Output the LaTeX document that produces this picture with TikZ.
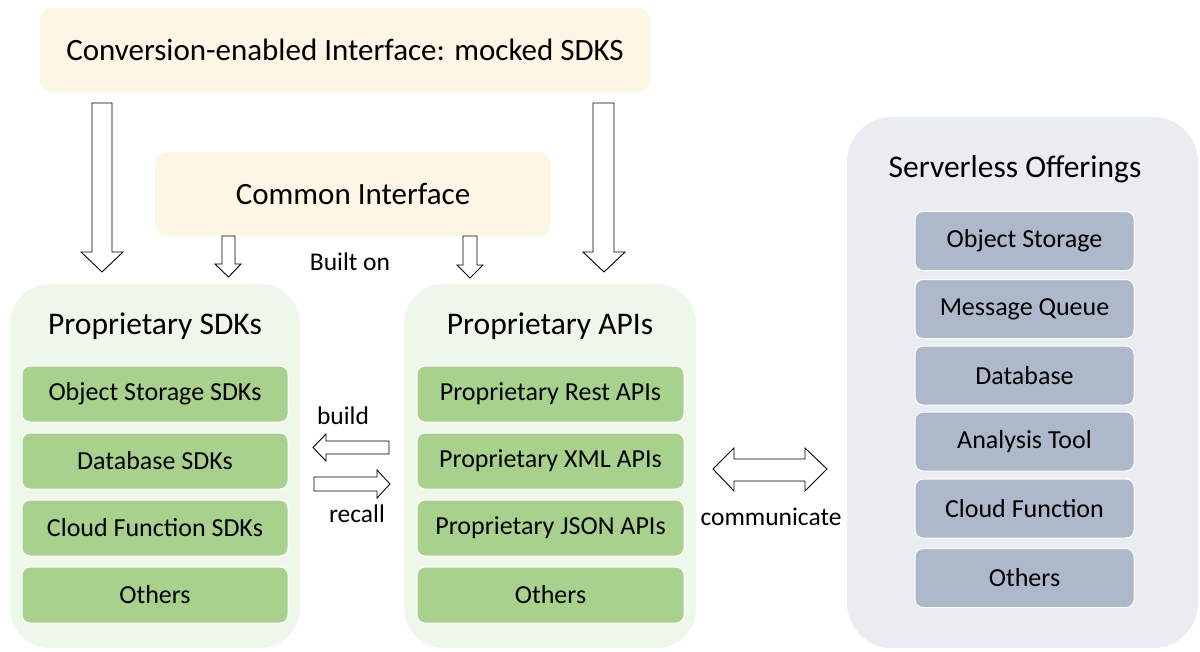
\documentclass[tikz,border=0pt]{standalone}
\usepackage{fontspec}
\setmainfont{Carlito}
\definecolor{cream}{HTML}{FEF6E4}
\definecolor{lgreen}{HTML}{EFF6EA}
\definecolor{mgreen}{HTML}{A9D18E}
\definecolor{lgray}{HTML}{E9ECF1}
\definecolor{mgray}{HTML}{ADB9CA}
\tikzset{
  ibox/.style={fill=cream, draw=none, rounded corners=12pt, font=\fontsize{31}{34}\selectfont},
  cont/.style={draw=none, rounded corners=40pt},
  gitem/.style={fill=mgreen, draw=white, line width=1pt, rounded corners=8pt, minimum width=266pt, minimum height=56pt, font=\fontsize{26}{28}\selectfont},
  sitem/.style={fill=mgray, draw=white, line width=1pt, rounded corners=8pt, minimum width=219pt, minimum height=59pt, font=\fontsize{26}{28}\selectfont},
  ttl/.style={font=\fontsize{31.5}{34}\selectfont},
  lbl/.style={font=\fontsize{25.5}{28}\selectfont},
  barrow/.style={draw=black, fill=white, line width=0.9pt, line join=miter},
}
\begin{document}
\begin{tikzpicture}[x=1pt,y=-1pt]
\useasboundingbox (0,0) rectangle (1200,651);
% interfaces
\node[ibox, minimum width=610pt, minimum height=84pt] (conv) at (345,50) {Conversion-enabled Interface: mocked SDKS};
\node[ibox, minimum width=396pt, minimum height=84pt] (common) at (353,194) {Common Interface};
% containers
\node[cont, fill=lgreen, minimum width=290pt, minimum height=364pt] (sdk) at (155,466) {};
\node[cont, fill=lgreen, minimum width=292pt, minimum height=364pt] (api) at (550,466) {};
\node[cont, fill=lgray, minimum width=351pt, minimum height=531pt, rounded corners=45pt] (srv) at (1022.5,382.5) {};
\node[ttl] (sdkt) at (155,326) {Proprietary SDKs};
\node[ttl] (apit) at (550,326) {Proprietary APIs};
\node[ttl] (srvt) at (1015,169) {Serverless Offerings};
% SDK items
\node[gitem] (s1) at (155,394) {Object Storage SDKs};
\node[gitem] (s2) at (155,461) {Database SDKs};
\node[gitem] (s3) at (155,528) {Cloud Function SDKs};
\node[gitem] (s4) at (155,595) {Others};
% API items
\node[gitem, minimum width=267pt] (a1) at (550.5,394) {Proprietary Rest APIs};
\node[gitem, minimum width=267pt] (a2) at (550.5,461) {Proprietary XML APIs};
\node[gitem, minimum width=267pt] (a3) at (550.5,528) {Proprietary JSON APIs};
\node[gitem, minimum width=267pt] (a4) at (550.5,595) {Others};
% serverless items
\node[sitem] (o1) at (1024.5,241) {Object Storage};
\node[sitem] (o2) at (1024.5,309) {Message Queue};
\node[sitem] (o3) at (1024.5,375.5) {Database};
\node[sitem] (o4) at (1024.5,441.5) {Analysis Tool};
\node[sitem] (o5) at (1024.5,508.5) {Cloud Function};
\node[sitem] (o6) at (1024.5,578) {Others};
% big down arrows
\draw[barrow] (92,103) -- (112,103) -- (112,252) -- (123,252) -- (102,272) -- (81,252) -- (92,252) -- cycle;
\draw[barrow] (593,103) -- (614,103) -- (614,252) -- (625,252) -- (604,272) -- (583,252) -- (593,252) -- cycle;
% small down arrows
\draw[barrow] (222,236) -- (235,236) -- (235,264) -- (241,264) -- (228.5,277) -- (215,264) -- (222,264) -- cycle;
\draw[barrow] (463,236) -- (477,236) -- (477,265) -- (483,265) -- (470,278) -- (457,265) -- (463,265) -- cycle;
\node[lbl] (built) at (350,262) {Built on};
% build / recall
\draw[barrow] (389,441) -- (389,454) -- (326,454) -- (326,461) -- (313,447.5) -- (326,434) -- (326,441) -- cycle;
\draw[barrow] (314,477) -- (377,477) -- (377,470) -- (390,484) -- (377,498) -- (377,491) -- (314,491) -- cycle;
\node[lbl] (build) at (343,416) {build};
\node[lbl] (recall) at (357,514) {recall};
% communicate
\draw[barrow] (713,469) -- (734,448) -- (734,459) -- (805,459) -- (805,448) -- (827,469) -- (805,491) -- (805,481) -- (734,481) -- (734,491) -- cycle;
\node[lbl] (comm) at (771,517) {communicate};
\end{tikzpicture}
\end{document}
